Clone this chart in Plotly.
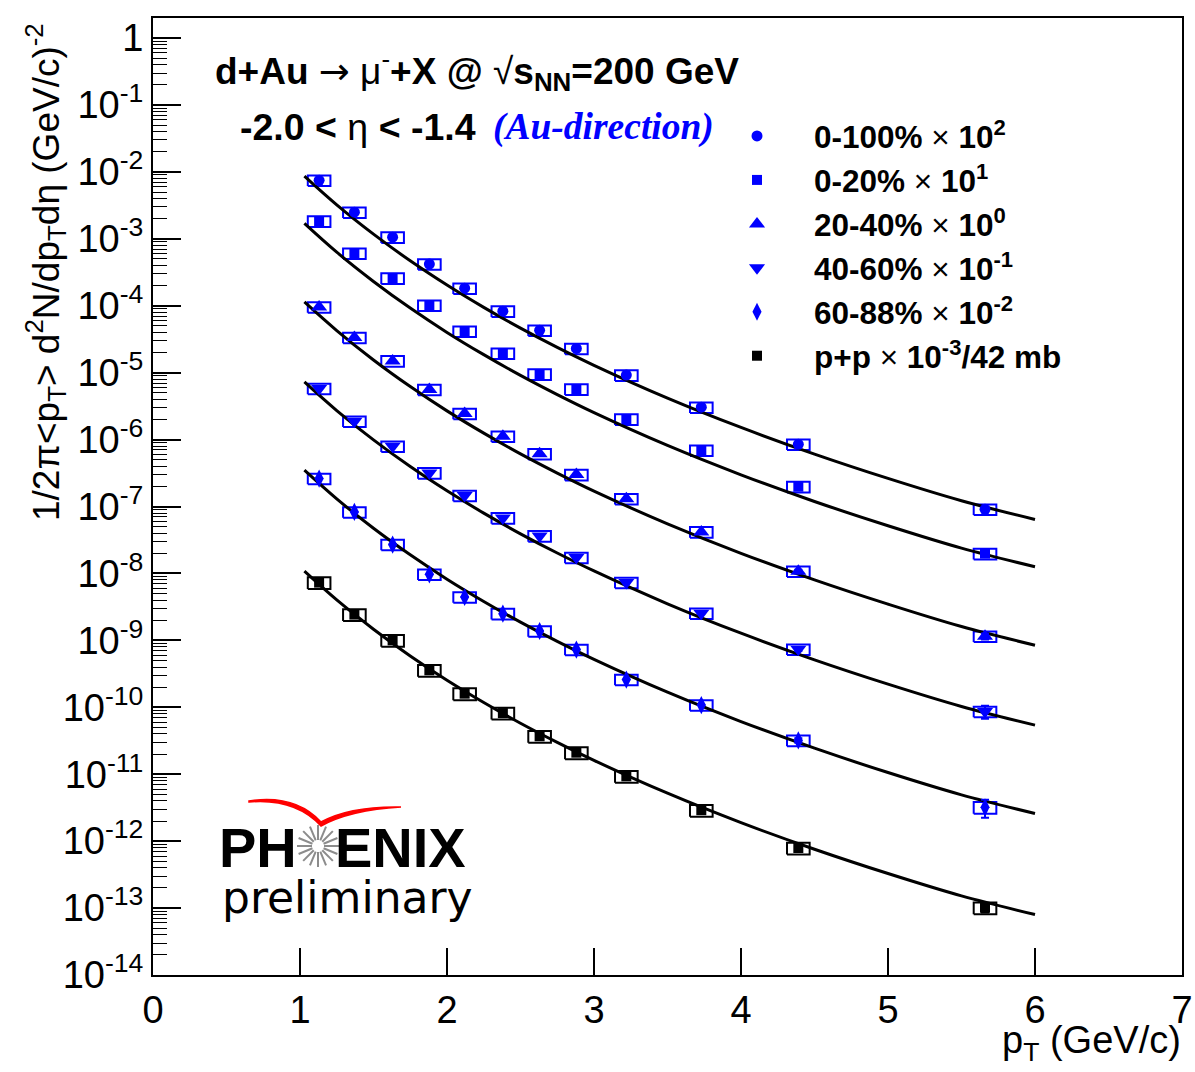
import math
import plotly.graph_objects as go

# ---------------- data ----------------
pt = [1.13, 1.37, 1.63, 1.88, 2.12, 2.38, 2.63, 2.88, 3.22, 3.73, 4.39, 5.66]

y_0_100 = [7.5e-3, 2.5e-3, 1.06e-3, 4.2e-4, 1.83e-4, 8.3e-5, 4.3e-5, 2.3e-5, 9.2e-6, 3.05e-6, 8.5e-7, 9.1e-8]
y_0_20 = [1.84e-3, 6.1e-4, 2.59e-4, 1.02e-4, 4.17e-5, 1.95e-5, 9.5e-6, 5.67e-6, 2.02e-6, 6.95e-7, 1.98e-7, 1.98e-8]
y_20_40 = [9.6e-5, 3.36e-5, 1.5e-5, 5.6e-6, 2.45e-6, 1.12e-6, 6.15e-7, 3.0e-7, 1.31e-7, 4.18e-8, 1.08e-8, 1.15e-9]
y_40_60 = [5.8e-6, 1.88e-6, 7.97e-7, 3.18e-7, 1.46e-7, 6.76e-8, 3.64e-8, 1.73e-8, 7.31e-9, 2.54e-9, 7.36e-10, 8.65e-11]
y_60_88 = [2.62e-7, 8.3e-8, 2.7e-8, 9.7e-9, 4.45e-9, 2.51e-9, 1.38e-9, 7.29e-10, 2.6e-10, 1.08e-10, 3.2e-11, 3.2e-12]
y_pp = [7.3e-9, 2.43e-9, 1.0e-9, 3.57e-10, 1.6e-10, 8.2e-11, 3.69e-11, 2.1e-11, 9.3e-12, 2.9e-12, 7.9e-13, 1.01e-13]

# relative systematic uncertainties (boxes)
sys_0_100 = [0.18, 0.18, 0.18, 0.18, 0.18, 0.18, 0.18, 0.18, 0.18, 0.18, 0.18, 0.18]
sys_0_20 = [0.18, 0.18, 0.18, 0.18, 0.18, 0.18, 0.18, 0.18, 0.18, 0.18, 0.18, 0.18]
sys_20_40 = [0.18, 0.18, 0.18, 0.18, 0.18, 0.18, 0.18, 0.18, 0.18, 0.18, 0.18, 0.18]
sys_40_60 = [0.18, 0.18, 0.18, 0.18, 0.18, 0.18, 0.18, 0.18, 0.18, 0.18, 0.18, 0.18]
sys_60_88 = [0.18, 0.18, 0.18, 0.18, 0.18, 0.18, 0.18, 0.18, 0.18, 0.18, 0.18, 0.2]
sys_pp = [0.2, 0.2, 0.2, 0.2, 0.2, 0.2, 0.2, 0.2, 0.2, 0.2, 0.2, 0.2]

# relative statistical uncertainties (error bars)
stat_0_100 = [0, 0, 0, 0, 0, 0, 0, 0, 0, 0, 0.03, 0.05]
stat_0_20 = [0, 0, 0, 0, 0, 0, 0, 0, 0, 0, 0.04, 0.08]
stat_20_40 = [0, 0, 0, 0, 0, 0, 0, 0, 0, 0, 0.05, 0.1]
stat_40_60 = [0, 0, 0, 0, 0, 0, 0, 0, 0, 0, 0.06, 0.22]
stat_60_88 = [0, 0, 0, 0, 0, 0, 0, 0, 0, 0, 0.08, 0.3]
stat_pp = [0, 0, 0, 0, 0, 0, 0, 0, 0, 0, 0.05, 0.15]

# fit curves
fit_pt = [1.03, 1.25, 1.5, 1.75, 2.0, 2.25, 2.5, 2.75, 3.0, 3.5, 4.0, 4.5, 5.0, 5.5, 6.0]
fit_0_100 = [8.65e-3, 3.22e-3, 1.175e-3, 4.70e-4, 2.04e-4, 9.46e-5, 4.63e-5, 2.39e-5, 1.29e-5, 4.17e-6, 1.52e-6, 6.07e-7, 2.63e-7, 1.22e-7, 6.41e-8]
fit_0_20 = [1.70e-3, 6.32e-4, 2.31e-4, 9.23e-5, 4.00e-5, 1.86e-5, 9.10e-6, 4.70e-6, 2.53e-6, 8.18e-7, 2.98e-7, 1.19e-7, 5.16e-8, 2.39e-8, 1.26e-8]
fit_20_40 = [1.14e-4, 4.26e-5, 1.55e-5, 6.21e-6, 2.69e-6, 1.25e-6, 6.12e-7, 3.16e-7, 1.70e-7, 5.51e-8, 2.00e-8, 8.02e-9, 3.48e-9, 1.61e-9, 8.47e-10]
fit_40_60 = [7.29e-6, 2.72e-6, 9.91e-7, 3.96e-7, 1.72e-7, 7.98e-8, 3.91e-8, 2.02e-8, 1.09e-8, 3.52e-9, 1.28e-9, 5.12e-10, 2.22e-10, 1.03e-10, 5.41e-11]
fit_60_88 = [3.49e-7, 1.30e-7, 4.74e-8, 1.90e-8, 8.22e-9, 3.82e-9, 1.87e-9, 9.66e-10, 5.20e-10, 1.68e-10, 6.12e-11, 2.45e-11, 1.06e-11, 4.92e-12, 2.59e-12]
fit_pp = [1.08e-8, 4.02e-9, 1.47e-9, 5.86e-10, 2.54e-10, 1.18e-10, 5.78e-11, 2.99e-11, 1.61e-11, 5.20e-12, 1.89e-12, 7.57e-13, 3.28e-13, 1.52e-13, 8.0e-14]

labels = [
    "<b>0-100%</b> × <b>10<sup>2</sup></b>",
    "<b>0-20%</b> × <b>10<sup>1</sup></b>",
    "<b>20-40%</b> × <b>10<sup>0</sup></b>",
    "<b>40-60%</b> × <b>10<sup>-1</sup></b>",
    "<b>60-88%</b> × <b>10<sup>-2</sup></b>",
    "<b>p+p</b> × <b>10<sup>-3</sup>/42 mb</b>",
]
ytick_vals = [10.0 ** k for k in range(-14, 1)]
ytick_text = ["10<sup>%d</sup>" % k for k in range(-14, 0)] + ["1"]

# ---------------- styling ----------------
BLUE = "#0000ff"
series = [
    (y_0_100, sys_0_100, stat_0_100, fit_0_100, "circle", 11, BLUE),
    (y_0_20, sys_0_20, stat_0_20, fit_0_20, "square", 10, BLUE),
    (y_20_40, sys_20_40, stat_20_40, fit_20_40, "triangle-up", 14, BLUE),
    (y_40_60, sys_40_60, stat_40_60, fit_40_60, "triangle-down", 14, BLUE),
    (y_60_88, sys_60_88, stat_60_88, fit_60_88, "diamond-tall", 13, BLUE),
    (y_pp, sys_pp, stat_pp, fit_pp, "square", 10, "black"),
]
BOX_HW = 0.077

# frame in pixels
FL, FR, FT, FB = 153, 1182, 18, 975
W, H = 1195, 1072


def px(x):
    return (x - FL) / (FR - FL)


def py(y):
    return (FB - y) / (FB - FT)


fig = go.Figure()

# boxes
for ys, sy, st, fy, sym, sz, col in series:
    bx, by = [], []
    for x, y, s in zip(pt, ys, sy):
        lo, hi = y * (1 - s), y * (1 + s)
        bx += [x - BOX_HW, x + BOX_HW, x + BOX_HW, x - BOX_HW, x - BOX_HW, None]
        by += [lo, lo, hi, hi, lo, None]
    fig.add_trace(go.Scatter(x=bx, y=by, mode="lines", line=dict(color=col, width=2),
                             showlegend=False, hoverinfo="skip"))

# fit curves
for ys, sy, st, fy, sym, sz, col in series:
    fig.add_trace(go.Scatter(x=fit_pt, y=fy, mode="lines", line=dict(color="black", width=3, shape="spline"),
                             showlegend=False, hoverinfo="skip"))

# data points
for (ys, sy, st, fy, sym, sz, col), lab in zip(series, labels):
    fig.add_trace(go.Scatter(
        x=pt, y=ys, mode="markers", name=lab,
        marker=dict(symbol=sym, size=sz, color=col, line=dict(width=0)),
        error_y=dict(type="data", array=[y * s for y, s in zip(ys, st)], color=col, thickness=2, width=4),
    ))

font_main = "Liberation Sans, Arial, Helvetica, sans-serif"

fig.update_layout(
    width=W, height=H, autosize=False,
    margin=dict(l=FL, r=W - FR, t=FT, b=H - FB, autoexpand=False),
    paper_bgcolor="white", plot_bgcolor="white",
    font=dict(family=font_main, color="black", size=33),
    showlegend=True,
    legend=dict(x=px(700), y=py(109), xanchor="left", yanchor="top",
                bgcolor="rgba(0,0,0,0)", font=dict(size=31.5, family=font_main),
                itemwidth=104, tracegroupgap=0, traceorder="normal"),
    xaxis=dict(range=[0, 7], dtick=1, tick0=0, ticks="inside", ticklen=27, tickwidth=1.5,
               tickcolor="black", showline=True, linecolor="black", linewidth=2, mirror=True,
               showgrid=False, zeroline=False, automargin=False,
               tickfont=dict(size=38, family=font_main)),
    yaxis=dict(type="log", range=[-14, 0.3], tickvals=ytick_vals, ticktext=ytick_text,
               ticks="inside", ticklen=28, tickwidth=1.5, tickcolor="black",
               minor=dict(ticks="inside", ticklen=14, tickwidth=1, tickcolor="black",
                          tickvals=[m * 10.0 ** k for k in range(-14, 1) for m in range(2, 10)]),
               showline=True, linecolor="black", linewidth=2, mirror=True,
               showgrid=False, zeroline=False, automargin=False,
               tickfont=dict(size=38, family=font_main)),
)

ann = [
    dict(text="<b>d+Au</b> <span style='font-family:DejaVu Sans'>→</span> μ<sup>-</sup><b>+X @ </b>√<b>s<sub>NN</sub>=200 GeV</b>",
         x=px(213), y=py(70), xanchor="left", yanchor="middle", font=dict(size=37)),
    dict(text="<b>-2.0 &lt; </b>η<b> &lt; -1.4</b>",
         x=px(238), y=py(127), xanchor="left", yanchor="middle", font=dict(size=37.5)),
    dict(text="<b><i>(Au-direction)</i></b>",
         x=px(491), y=py(127), xanchor="left", yanchor="middle",
         font=dict(size=37.5, color=BLUE, family="Liberation Serif, Times New Roman, serif")),
    dict(text="p<sub>T</sub> (GeV/c)", x=px(1183), y=py(1043), xanchor="right", yanchor="middle",
         font=dict(size=38)),
    dict(text="1/2π&lt;p<sub>T</sub>&gt; d<sup>2</sup>N/dp<sub>T</sub>dη (GeV/c)<sup>-2</sup>",
         x=px(45), y=py(272), xanchor="center", yanchor="middle", textangle=-90, font=dict(size=37)),
    dict(text="<b>PH</b>", x=px(299), y=py(847), xanchor="right", yanchor="middle",
         font=dict(size=56)),
    dict(text="<b>ENIX</b>", x=px(333), y=py(847), xanchor="left", yanchor="middle",
         font=dict(size=56)),
    dict(text="preliminary", x=px(220), y=py(897), xanchor="left", yanchor="middle",
         font=dict(size=44, family="DejaVu Sans, sans-serif")),
]
for a in ann:
    a.update(xref="paper", yref="paper", showarrow=False)
fig.update_layout(annotations=ann)


# PHENIX logo decorations (swoosh + sunburst)
def pp_(x, y):
    return "%f %f" % (px(x), py(y))


shapes = [dict(type="path", xref="paper", yref="paper",
               path="M %s Q %s %s Q %s %s Q %s %s Q %s %s Z" % (
                   pp_(249, 801), pp_(295, 794), pp_(321, 822), pp_(350, 806), pp_(401, 807),
                   pp_(350, 810), pp_(321, 826), pp_(295, 798), pp_(249, 802)),
               line=dict(color="red", width=1.5), fillcolor="red")]
cx, cy = 318, 846
for i in range(16):
    a = 2 * math.pi * i / 16
    shapes.append(dict(type="line", xref="paper", yref="paper",
                       x0=px(cx + 6 * math.cos(a)), y0=py(cy + 6 * math.sin(a)),
                       x1=px(cx + 21 * math.cos(a)), y1=py(cy + 21 * math.sin(a)),
                       line=dict(color="#8c8c8c", width=2)))
fig.update_layout(shapes=shapes)

post = ("document.body.style.margin='0';"
        "document.documentElement.style.overflow='hidden';"
        "document.body.style.overflow='hidden';"
        "Plotly.relayout('{plot_id}', {width: 1195, height: 1072});")
fig.write_html("out.html", config={"displayModeBar": False, "responsive": False}, post_script=post)
